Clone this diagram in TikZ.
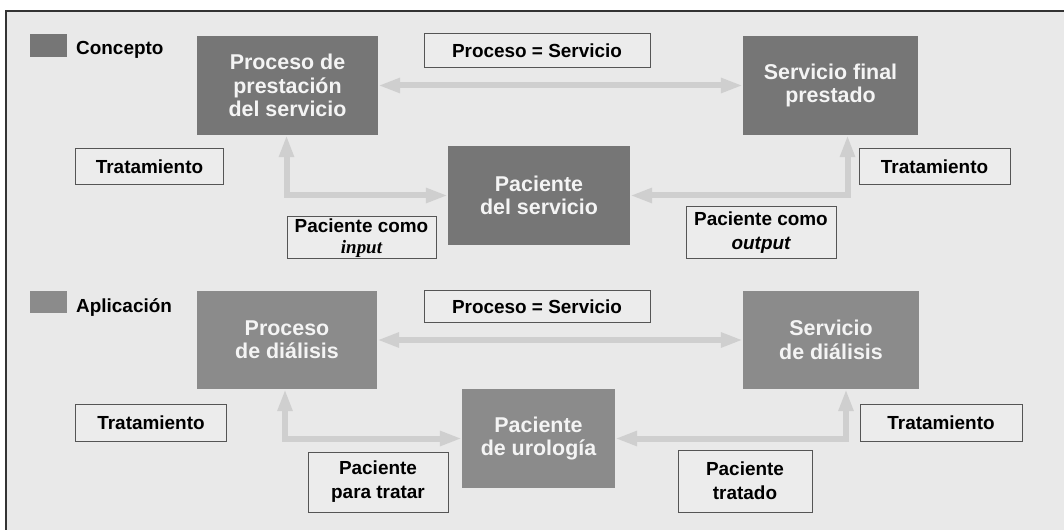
\documentclass[tikz,border=0pt]{standalone}
\usepackage{fontspec}
\setmainfont{Liberation Sans}
\newfontfamily\serifface{Liberation Serif}
\usetikzlibrary{arrows.meta}
\definecolor{bgc}{HTML}{E9E9E9}
\definecolor{darkbox}{HTML}{767676}
\definecolor{midbox}{HTML}{8B8B8B}
\definecolor{arrc}{HTML}{CFCFCF}
\definecolor{framec}{HTML}{333333}
\definecolor{lblborder}{HTML}{555555}
\definecolor{lblfill}{HTML}{ECECEC}
\definecolor{boxtext}{HTML}{F4F4F4}
\begin{document}
\begin{tikzpicture}[x=1bp,y=-1bp,
  bigbox/.style={draw=none, inner sep=0pt, align=center, text=boxtext,
    font=\bfseries\fontsize{21.5}{23.5}\selectfont},
  conc/.style={bigbox, fill=darkbox},
  appl/.style={bigbox, fill=midbox},
  lbl/.style={draw=lblborder, line width=1bp, fill=lblfill, inner sep=0pt,
    align=center, font=\bfseries\fontsize{19}{24}\selectfont},
  legtext/.style={anchor=west, inner sep=0pt, font=\bfseries\fontsize{19}{22}\selectfont},
  arr/.style={draw=arrc, line width=6bp,
    {Triangle[width=14bp,length=22bp]}-{Triangle[width=14bp,length=22bp]}},
]
\useasboundingbox (0,0) rectangle (1064,530);
\fill[white] (0,0) rectangle (1064,530);
\fill[bgc] (6,11) rectangle (1064,530);
\draw[framec, line width=1.5bp] (6,530) -- (6,11) -- (1064,11);

% legend
\fill[darkbox] (30,34) rectangle (67,57);
\node[legtext] (leg1) at (76,50) {Concepto};
\fill[midbox] (30,291) rectangle (67,313);
\node[legtext] (leg2) at (76,308) {Aplicación};

% concept row
\node[conc, minimum width=181bp, minimum height=99bp] (A) at (287.5,85.5) {Proceso de\\prestación\\del servicio};
\node[conc, minimum width=175bp, minimum height=99bp] (B) at (830.5,85.5) {Servicio final\\prestado};
\node[conc, minimum width=182bp, minimum height=99bp] (P1) at (539,195.5) {Paciente\\del servicio};

\node[lbl, minimum width=226bp, minimum height=34bp] (PS1) at (537,51) {Proceso = Servicio};
\node[lbl, minimum width=147bp, minimum height=36bp] (T1L) at (149.5,167) {Tratamiento};
\node[lbl, minimum width=151bp, minimum height=36bp] (T1R) at (934.5,167) {Tratamiento};
\node[lbl, minimum width=149bp, minimum height=42bp] (IN) at (361.5,238) {Paciente como\\[-3bp]{\serifface\bfseries\itshape input}};
\node[lbl, minimum width=150bp, minimum height=52bp] (OUT) at (761,233) {Paciente como\\{\itshape output}};

\draw[arr] (A.east) -- (B.west);
\draw[arr] ([xshift=-1bp]A.south) |- (P1.west);
\draw[arr] ([xshift=17bp]B.south) |- (P1.east);

% application row
\node[appl, minimum width=180bp, minimum height=98bp] (C) at (287,340) {Proceso\\de diálisis};
\node[appl, minimum width=176bp, minimum height=98bp] (D) at (831,340) {Servicio\\de diálisis};
\node[appl, minimum width=153bp, minimum height=99bp] (P2) at (538.5,438.5) {Paciente\\de urología};

\node[lbl, minimum width=226bp, minimum height=32bp] (PS2) at (537,307) {Proceso = Servicio};
\node[lbl, minimum width=150bp, minimum height=37bp] (T2L) at (151,422.5) {Tratamiento};
\node[lbl, minimum width=162bp, minimum height=37bp] (T2R) at (941,422.5) {Tratamiento};
\node[lbl, minimum width=140bp, minimum height=60bp] (TR) at (378,482) {Paciente\\para tratar};
\node[lbl, minimum width=134bp, minimum height=62bp] (TD) at (745,481) {Paciente\\tratado};

\draw[arr] (C.east) -- (D.west);
\draw[arr] ([xshift=-2bp]C.south) |- (P2.west);
\draw[arr] ([xshift=15bp]D.south) |- (P2.east);
\end{tikzpicture}
\end{document}
